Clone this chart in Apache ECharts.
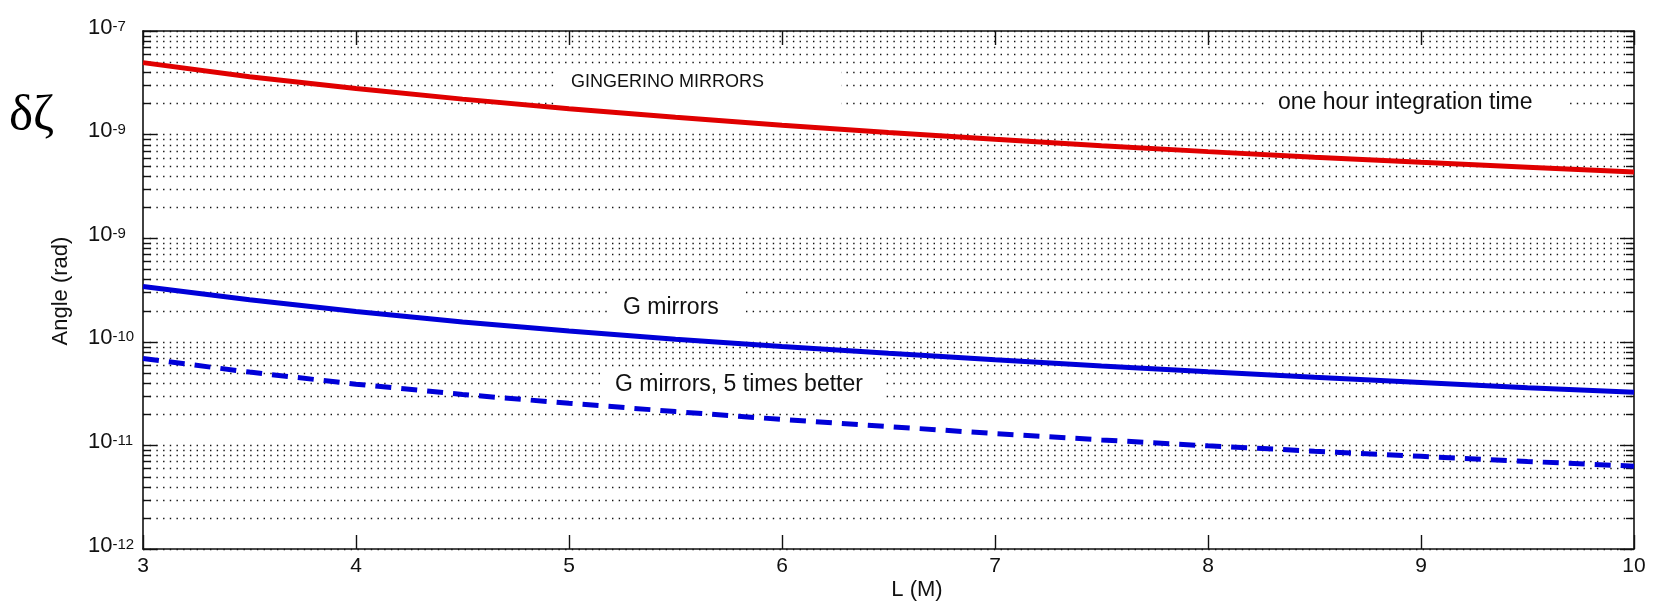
<!DOCTYPE html>
<html>
<head>
<meta charset="utf-8">
<script src="https://cdn.jsdelivr.net/npm/echarts@6/dist/echarts.min.js"></script>
<style>
  html, body { margin: 0; padding: 0; background: #fff; }
  #chart { width: 1653px; height: 604px; }
</style>
</head>
<body>
<div id="chart"></div>
<script>
// Baseline length L (M)
const lengths = [3, 3.5, 4, 4.5, 5, 5.5, 6, 6.5, 7, 7.5, 8, 8.5, 9, 9.5, 10];

// Angular sensitivity (rad), one hour integration time
const gingerinoMirrors = [4.95e-8, 3.62e-8, 2.78e-8, 2.2e-8, 1.78e-8, 1.47e-8, 1.23e-8, 1.05e-8,
                          9.0e-9, 7.8e-9, 6.85e-9, 6.05e-9, 5.4e-9, 4.85e-9, 4.35e-9];
const gMirrors = [3.42e-10, 2.55e-10, 1.96e-10, 1.55e-10, 1.27e-10, 1.06e-10, 9.0e-11, 7.75e-11,
                  6.7e-11, 5.85e-11, 5.15e-11, 4.55e-11, 4.05e-11, 3.6e-11, 3.25e-11];
const gMirrorsBetter = [6.9e-11, 5.1e-11, 3.9e-11, 3.1e-11, 2.55e-11, 2.12e-11, 1.78e-11, 1.52e-11,
                        1.3e-11, 1.13e-11, 9.9e-12, 8.8e-12, 7.85e-12, 7.0e-12, 6.3e-12];

// Axis ranges and tick labels
const xMin = 3, xMax = 10, xStep = 1;
const yMin = 1e-12, yMax = 1e-7;
const yExponents = [-12, -11, -10, -9, -8, -7];
const yTickSup = ['-12', '-11', '-10', '-9', '-9', '-7'];
const minorMantissas = [2, 3, 4, 5, 6, 7, 8, 9];

const FONT = '"Liberation Sans", Arial, sans-serif';
const INK = '#111';
const DOTS = [1.4, 5.3];

// Minor log gridlines 2..9 x 10^e inside each decade
const minorValues = [];
for (let e = yExponents[0]; e < yExponents[yExponents.length - 1]; e++) {
  minorMantissas.forEach(m => minorValues.push(m * Math.pow(10, e)));
}

function renderMinor(params, api) {
  const v = api.value(1);
  const a = api.coord([xMin, v]);
  const b = api.coord([xMax, v]);
  const y = Math.round(a[1]) + 0.5;
  return {
    type: 'group',
    children: [
      { type: 'line', shape: { x1: a[0], y1: y, x2: b[0], y2: y },
        style: { stroke: INK, lineWidth: 1.4, lineDash: DOTS } },
      { type: 'line', shape: { x1: a[0], y1: y, x2: a[0] + 8, y2: y },
        style: { stroke: INK, lineWidth: 1.4 } },
      { type: 'line', shape: { x1: b[0] - 8, y1: y, x2: b[0], y2: y },
        style: { stroke: INK, lineWidth: 1.4 } }
    ]
  };
}

const pairs = arr => lengths.map((x, i) => [x, arr[i]]);

const axisLine = { lineStyle: { color: INK, width: 1.6 } };
const tick = { inside: true, length: 14, lineStyle: { color: INK, width: 1.4 } };

const chart = echarts.init(document.getElementById('chart'), null, { renderer: 'canvas' });
chart.setOption({
  animation: false,
  backgroundColor: '#fff',
  grid: { left: 143, right: 19, top: 31, bottom: 55 },
  xAxis: [
    {
      type: 'value', min: xMin, max: xMax, interval: xStep,
      axisLine: axisLine, axisTick: tick, splitLine: { show: false },
      axisLabel: { margin: 7, fontSize: 21, color: INK, fontFamily: FONT,
                   showMinLabel: true, showMaxLabel: true }
    },
    {
      type: 'value', position: 'top', min: xMin, max: xMax, interval: xStep,
      axisLine: axisLine, axisTick: tick, splitLine: { show: false },
      axisLabel: { show: false }
    }
  ],
  yAxis: [
    {
      type: 'log', logBase: 10, min: yMin, max: yMax, splitNumber: 5,
      axisLine: axisLine, axisTick: tick,
      splitLine: { show: true, lineStyle: { color: INK, width: 1.4, type: DOTS } },
      axisLabel: {
        margin: 55, align: 'left', showMinLabel: true, showMaxLabel: true,
        fontSize: 22, fontFamily: FONT, color: INK,
        formatter: v => {
          const idx = yExponents.indexOf(Math.round(Math.log10(v)));
          return '{b|10}{s|' + yTickSup[idx] + '}';
        },
        rich: {
          b: { fontSize: 22, lineHeight: 24, fontFamily: FONT, color: INK, padding: [5, 0, 12, 0] },
          s: { fontSize: 15, lineHeight: 15, fontFamily: FONT, color: INK, verticalAlign: 'top' }
        }
      }
    },
    {
      type: 'log', logBase: 10, min: yMin, max: yMax, splitNumber: 5, position: 'right',
      axisLine: axisLine, axisTick: tick, splitLine: { show: false },
      axisLabel: { show: false }
    }
  ],
  series: [
    {
      type: 'custom', name: 'minor grid', silent: true, z: 1, clip: false,
      encode: { x: 0, y: 1 },
      renderItem: renderMinor,
      data: minorValues.map(v => [xMin, v])
    },
    {
      type: 'line', name: 'GINGERINO MIRRORS', z: 3, showSymbol: false, silent: true,
      lineStyle: { color: '#e00000', width: 5 },
      data: pairs(gingerinoMirrors)
    },
    {
      type: 'line', name: 'G mirrors', z: 3, showSymbol: false, silent: true,
      lineStyle: { color: '#0000d8', width: 5 },
      data: pairs(gMirrors)
    },
    {
      type: 'line', name: 'G mirrors, 5 times better', z: 3, showSymbol: false, silent: true,
      lineStyle: { color: '#0000d8', width: 5, type: [16, 10] },
      data: pairs(gMirrorsBetter)
    }
  ],
  graphic: [
    // white text boxes over the grid
    { type: 'rect', z: 2, shape: { x: 556, y: 66, width: 285, height: 44 }, style: { fill: '#fff' } },
    { type: 'rect', z: 2, shape: { x: 1268, y: 89, width: 297, height: 31 }, style: { fill: '#fff' } },
    { type: 'rect', z: 2, shape: { x: 612, y: 286, width: 130, height: 40 }, style: { fill: '#fff' } },
    { type: 'rect', z: 2, shape: { x: 605, y: 368, width: 280, height: 34 }, style: { fill: '#fff' } },
    // annotations
    { type: 'text', z: 5, x: 571, y: 82,
      style: { text: 'GINGERINO MIRRORS', font: '18px ' + FONT, fill: INK, verticalAlign: 'middle' } },
    { type: 'text', z: 5, x: 1278, y: 103,
      style: { text: 'one hour integration time', font: '23px ' + FONT, fill: INK, verticalAlign: 'middle' } },
    { type: 'text', z: 5, x: 623, y: 308,
      style: { text: 'G mirrors', font: '23px ' + FONT, fill: INK, verticalAlign: 'middle' } },
    { type: 'text', z: 5, x: 615, y: 385,
      style: { text: 'G mirrors, 5 times better', font: '23px ' + FONT, fill: INK, verticalAlign: 'middle' } },
    // axis titles
    { type: 'text', z: 5, x: 917, y: 590,
      style: { text: 'L (M)', font: '22px ' + FONT, fill: INK, align: 'center', verticalAlign: 'middle' } },
    { type: 'text', z: 5, x: 61, y: 291, rotation: Math.PI / 2,
      style: { text: 'Angle (rad)', font: '22px ' + FONT, fill: INK, align: 'center', verticalAlign: 'middle' } },
    { type: 'text', z: 5, x: 9, y: 117,
      style: { text: 'δζ', font: '51px "Liberation Serif", "Times New Roman", serif', fill: '#000', verticalAlign: 'middle' } }
  ]
});
</script>
</body>
</html>
